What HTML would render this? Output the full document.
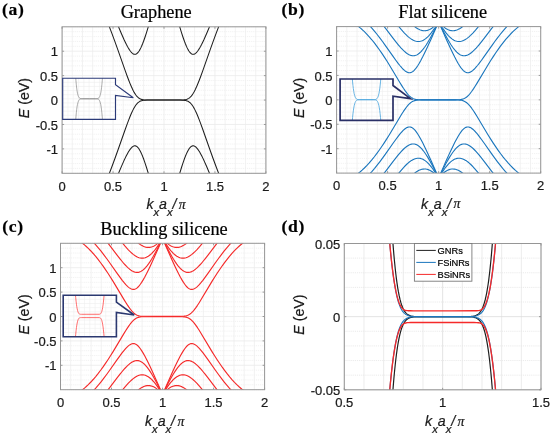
<!DOCTYPE html>
<html lang="en"><head><meta charset="utf-8"><title>Band structures</title>
<style>html,body{margin:0;padding:0;background:#fff}svg{display:block}</style></head>
<body>
<svg width="550" height="434" viewBox="0 0 550 434" font-family="'Liberation Sans', Arial, sans-serif">
<style>text{stroke:#1a1a1a;stroke-width:0.22px;paint-order:stroke}</style>
<rect width="550" height="434" fill="#fff"/>
<clipPath id="clip1"><rect x="62.10" y="26.80" width="203.80" height="146.50"/></clipPath>
<rect x="62.10" y="26.80" width="203.80" height="146.50" fill="#fff"/>
<path d="M72.29 26.80 V173.30M82.48 26.80 V173.30M92.67 26.80 V173.30M102.86 26.80 V173.30M123.24 26.80 V173.30M133.43 26.80 V173.30M143.62 26.80 V173.30M153.81 26.80 V173.30M174.19 26.80 V173.30M184.38 26.80 V173.30M194.57 26.80 V173.30M204.76 26.80 V173.30M225.14 26.80 V173.30M235.33 26.80 V173.30M245.52 26.80 V173.30M255.71 26.80 V173.30" stroke="#efefef" stroke-width="0.8" fill="none"/>
<path d="M62.10 173.30 H265.90M62.10 168.42 H265.90M62.10 163.53 H265.90M62.10 158.65 H265.90M62.10 153.77 H265.90M62.10 144.00 H265.90M62.10 139.12 H265.90M62.10 134.23 H265.90M62.10 129.35 H265.90M62.10 119.58 H265.90M62.10 114.70 H265.90M62.10 109.82 H265.90M62.10 104.93 H265.90M62.10 95.17 H265.90M62.10 90.28 H265.90M62.10 85.40 H265.90M62.10 80.52 H265.90M62.10 70.75 H265.90M62.10 65.87 H265.90M62.10 60.98 H265.90M62.10 56.10 H265.90M62.10 46.33 H265.90M62.10 41.45 H265.90M62.10 36.57 H265.90M62.10 31.68 H265.90M62.10 26.80 H265.90" stroke="#efefef" stroke-width="0.8" stroke-dasharray="1.2 0.9" fill="none"/>
<path d="M62.10 26.80 V173.30M113.05 26.80 V173.30M164.00 26.80 V173.30M214.95 26.80 V173.30M265.90 26.80 V173.30M62.10 148.88 H265.90M62.10 124.47 H265.90M62.10 100.05 H265.90M62.10 75.63 H265.90M62.10 51.22 H265.90" stroke="#ebebeb" stroke-width="0.8" fill="none"/>
<g clip-path="url(#clip1)" fill="none" stroke-linejoin="round">
<path d="M117.89 174.77L121.46 166.33L124.00 160.59L125.28 157.89L126.30 155.83L127.32 153.89L128.34 152.09L129.35 150.45L130.12 149.35L131.14 148.07L131.90 147.27L132.67 146.64L133.43 146.17L133.94 145.96L134.19 145.89L134.70 145.82L134.96 145.81L135.47 145.88L135.72 145.95L136.23 146.15L136.49 146.29L137.00 146.64L137.76 147.35L138.53 148.28L139.29 149.40L140.05 150.72L140.82 152.22L141.58 153.88L142.60 156.32L143.37 158.30L144.38 161.12L145.40 164.11L146.42 167.24L148.72 174.73M179.28 174.73L181.58 167.24L182.60 164.11L183.62 161.12L184.63 158.30L185.40 156.32L186.42 153.88L187.18 152.22L187.95 150.72L188.71 149.40L189.47 148.28L190.24 147.35L191.00 146.64L191.51 146.29L191.77 146.15L192.28 145.95L192.53 145.88L193.04 145.81L193.30 145.82L193.81 145.89L194.06 145.96L194.57 146.17L195.33 146.64L196.10 147.27L196.86 148.07L197.88 149.35L198.65 150.45L199.66 152.09L200.68 153.89L201.70 155.83L202.72 157.89L204.00 160.59L206.54 166.33L210.11 174.77" stroke="#1f1f1f" stroke-width="1.05"/>
<path d="M108.97 174.35L111.78 167.02L114.83 158.74L118.15 149.49L125.28 129.24L127.32 123.64L128.84 119.60L129.86 117.03L130.88 114.57L131.90 112.25L132.67 110.63L133.43 109.11L134.19 107.71L134.96 106.44L135.72 105.30L136.49 104.29L137.25 103.43L138.02 102.69L138.78 102.08L139.54 101.59L140.56 101.08L141.58 100.72L142.60 100.47L143.62 100.30L144.64 100.20L147.19 100.08L150.75 100.05L162.73 100.05L180.30 100.07L182.85 100.16L183.87 100.24L184.89 100.38L185.91 100.58L186.93 100.88L187.95 101.31L188.71 101.74L189.22 102.08L189.73 102.48L190.49 103.17L191.26 103.99L192.02 104.95L192.79 106.04L193.55 107.27L194.32 108.63L195.33 110.63L196.10 112.25L197.12 114.57L198.14 117.03L199.16 119.60L200.68 123.64L202.72 129.24L209.85 149.49L213.17 158.74L216.22 167.02L219.03 174.35" stroke="#1f1f1f" stroke-width="1.05"/>
<path d="M108.97 25.75L111.78 33.08L114.83 41.36L118.15 50.61L125.28 70.86L127.32 76.46L128.84 80.50L129.86 83.07L130.88 85.53L131.90 87.85L132.67 89.47L133.43 90.99L134.19 92.39L134.96 93.66L135.72 94.80L136.49 95.81L137.25 96.67L138.02 97.41L138.78 98.02L139.54 98.51L140.56 99.02L141.58 99.38L142.60 99.63L143.62 99.80L144.64 99.90L147.19 100.02L150.75 100.05L162.73 100.05L180.30 100.03L182.85 99.94L183.87 99.86L184.89 99.72L185.91 99.52L186.93 99.22L187.95 98.79L188.71 98.36L189.22 98.02L189.73 97.62L190.49 96.93L191.26 96.11L192.02 95.15L192.79 94.06L193.55 92.83L194.32 91.47L195.33 89.47L196.10 87.85L197.12 85.53L198.14 83.07L199.16 80.50L200.68 76.46L202.72 70.86L209.85 50.61L213.17 41.36L216.22 33.08L219.03 25.75" stroke="#1f1f1f" stroke-width="1.05"/>
<path d="M117.89 25.33L121.46 33.77L124.00 39.51L125.28 42.21L126.30 44.27L127.32 46.21L128.34 48.01L129.35 49.65L130.12 50.75L131.14 52.03L131.90 52.83L132.67 53.46L133.43 53.93L133.94 54.14L134.19 54.21L134.70 54.28L134.96 54.29L135.47 54.22L135.72 54.15L136.23 53.95L136.49 53.81L137.00 53.46L137.76 52.75L138.53 51.82L139.29 50.70L140.05 49.38L140.82 47.88L141.58 46.22L142.60 43.78L143.37 41.80L144.38 38.98L145.40 35.99L146.42 32.86L148.72 25.37M179.28 25.37L181.58 32.86L182.60 35.99L183.62 38.98L184.63 41.80L185.40 43.78L186.42 46.22L187.18 47.88L187.95 49.38L188.71 50.70L189.47 51.82L190.24 52.75L191.00 53.46L191.51 53.81L191.77 53.95L192.28 54.15L192.53 54.22L193.04 54.29L193.30 54.28L193.81 54.21L194.06 54.14L194.57 53.93L195.33 53.46L196.10 52.83L196.86 52.03L197.88 50.75L198.65 49.65L199.66 48.01L200.68 46.21L201.70 44.27L202.72 42.21L204.00 39.51L206.54 33.77L210.11 25.33" stroke="#1f1f1f" stroke-width="1.05"/>
</g>
<path d="M62.10 173.30 v-2.00 M62.10 26.80 v2.00M113.05 173.30 v-2.00 M113.05 26.80 v2.00M164.00 173.30 v-2.00 M164.00 26.80 v2.00M214.95 173.30 v-2.00 M214.95 26.80 v2.00M265.90 173.30 v-2.00 M265.90 26.80 v2.00M62.10 148.88 h2.00 M265.90 148.88 h-2.00M62.10 124.47 h2.00 M265.90 124.47 h-2.00M62.10 100.05 h2.00 M265.90 100.05 h-2.00M62.10 75.63 h2.00 M265.90 75.63 h-2.00M62.10 51.22 h2.00 M265.90 51.22 h-2.00" stroke="#777" stroke-width="0.7" fill="none"/>
<rect x="62.10" y="26.80" width="203.80" height="146.50" fill="none" stroke="#969696" stroke-width="1"/>
<text x="62.10" y="190.60" text-anchor="middle" font-size="13.0" fill="#1a1a1a">0</text>
<text x="113.05" y="190.60" text-anchor="middle" font-size="13.0" fill="#1a1a1a">0.5</text>
<text x="164.00" y="190.60" text-anchor="middle" font-size="13.0" fill="#1a1a1a">1</text>
<text x="214.95" y="190.60" text-anchor="middle" font-size="13.0" fill="#1a1a1a">1.5</text>
<text x="265.90" y="190.60" text-anchor="middle" font-size="13.0" fill="#1a1a1a">2</text>
<text x="58.10" y="153.98" text-anchor="end" font-size="13.0" fill="#1a1a1a">-1</text>
<text x="58.10" y="129.57" text-anchor="end" font-size="13.0" fill="#1a1a1a">-0.5</text>
<text x="58.10" y="105.15" text-anchor="end" font-size="13.0" fill="#1a1a1a">0</text>
<text x="58.10" y="80.73" text-anchor="end" font-size="13.0" fill="#1a1a1a">0.5</text>
<text x="58.10" y="56.32" text-anchor="end" font-size="13.0" fill="#1a1a1a">1</text>
<text x="146.40" y="208.90" font-size="14.2" font-style="italic" fill="#1a1a1a">k<tspan dy="7" font-size="11.2">x</tspan><tspan dy="-7">a</tspan><tspan dy="7" font-size="11.2">x</tspan><tspan dy="-7">/</tspan><tspan dx="2.3" dy="-0.3" font-family="'Liberation Serif', 'Times New Roman', serif" font-size="13.8">π</tspan></text>
<text transform="translate(28.80 98.05) rotate(-90)" text-anchor="middle" font-size="14.2" fill="#1a1a1a"><tspan font-style="italic">E</tspan> (eV)</text>
<clipPath id="iclip1"><rect x="62.70" y="78.20" width="52.80" height="41.20"/></clipPath>
<rect x="62.70" y="78.20" width="52.80" height="41.20" fill="#fff"/>
<path d="M67.98 78.20 V119.40M73.26 78.20 V119.40M78.54 78.20 V119.40M83.82 78.20 V119.40M89.10 78.20 V119.40M94.38 78.20 V119.40M99.66 78.20 V119.40M104.94 78.20 V119.40M110.22 78.20 V119.40M62.70 115.28 H115.50M62.70 111.16 H115.50M62.70 107.04 H115.50M62.70 102.92 H115.50M62.70 98.80 H115.50M62.70 94.68 H115.50M62.70 90.56 H115.50M62.70 86.44 H115.50M62.70 82.32 H115.50" stroke="#efefef" stroke-width="0.6" fill="none"/>
<g clip-path="url(#iclip1)" fill="none">
<path d="M75.64 76.51L75.95 80.70L76.32 84.81L76.69 88.15L77.06 90.82L77.48 93.17L77.91 94.92L78.12 95.60L78.38 96.31L78.59 96.77L78.86 97.25L79.28 97.81L79.54 98.06L79.81 98.25L80.39 98.53L81.13 98.70L81.81 98.76L82.82 98.79L89.52 98.80L95.54 98.79L96.49 98.76L97.18 98.68L97.86 98.51L98.18 98.37L98.45 98.22L98.71 98.01L98.97 97.75L99.40 97.16L99.66 96.66L99.87 96.18L100.14 95.44L100.35 94.73L100.77 92.91L101.19 90.47L101.56 87.71L101.88 84.81L102.25 80.70L102.56 76.51" stroke="#808080" stroke-width="0.65"/>
<path d="M75.64 121.09L75.95 116.90L76.32 112.79L76.69 109.45L77.06 106.78L77.48 104.43L77.91 102.68L78.12 102.00L78.38 101.29L78.59 100.83L78.86 100.35L79.28 99.79L79.54 99.54L79.81 99.35L80.39 99.07L81.13 98.90L81.81 98.84L82.82 98.81L89.52 98.80L95.54 98.81L96.49 98.84L97.18 98.92L97.86 99.09L98.18 99.23L98.45 99.38L98.71 99.59L98.97 99.85L99.40 100.44L99.66 100.94L99.87 101.42L100.14 102.16L100.35 102.87L100.77 104.69L101.19 107.13L101.56 109.89L101.88 112.79L102.25 116.90L102.56 121.09" stroke="#808080" stroke-width="0.65"/>
</g>
<path d="M62.70 78.20 H115.50 V84.70 L133.30 97.80 L115.50 95.40 V119.40 H62.70 Z" fill="none" stroke="#2b3a78" stroke-width="1.15" stroke-linejoin="miter"/>
<clipPath id="clip2"><rect x="336.60" y="26.60" width="204.10" height="146.50"/></clipPath>
<rect x="336.60" y="26.60" width="204.10" height="146.50" fill="#fff"/>
<path d="M346.81 26.60 V173.10M357.01 26.60 V173.10M367.22 26.60 V173.10M377.42 26.60 V173.10M397.83 26.60 V173.10M408.04 26.60 V173.10M418.24 26.60 V173.10M428.45 26.60 V173.10M448.86 26.60 V173.10M459.06 26.60 V173.10M469.27 26.60 V173.10M479.47 26.60 V173.10M499.88 26.60 V173.10M510.09 26.60 V173.10M520.29 26.60 V173.10M530.50 26.60 V173.10" stroke="#efefef" stroke-width="0.8" fill="none"/>
<path d="M336.60 173.10 H540.70M336.60 168.22 H540.70M336.60 163.33 H540.70M336.60 158.45 H540.70M336.60 153.57 H540.70M336.60 143.80 H540.70M336.60 138.92 H540.70M336.60 134.03 H540.70M336.60 129.15 H540.70M336.60 119.38 H540.70M336.60 114.50 H540.70M336.60 109.62 H540.70M336.60 104.73 H540.70M336.60 94.97 H540.70M336.60 90.08 H540.70M336.60 85.20 H540.70M336.60 80.32 H540.70M336.60 70.55 H540.70M336.60 65.67 H540.70M336.60 60.78 H540.70M336.60 55.90 H540.70M336.60 46.13 H540.70M336.60 41.25 H540.70M336.60 36.37 H540.70M336.60 31.48 H540.70M336.60 26.60 H540.70" stroke="#efefef" stroke-width="0.8" stroke-dasharray="1.2 0.9" fill="none"/>
<path d="M336.60 26.60 V173.10M387.62 26.60 V173.10M438.65 26.60 V173.10M489.68 26.60 V173.10M540.70 26.60 V173.10M336.60 148.68 H540.70M336.60 124.27 H540.70M336.60 99.85 H540.70M336.60 75.43 H540.70M336.60 51.02 H540.70" stroke="#ebebeb" stroke-width="0.8" fill="none"/>
<g clip-path="url(#clip2)" fill="none" stroke-linejoin="round">
<path d="M413.39 174.19L414.92 172.93L416.20 172.00L417.73 171.02L419.01 170.34L419.77 170.00L420.54 169.70L421.81 169.31L423.09 169.07L424.36 168.98L425.64 169.04L426.91 169.25L428.19 169.61L428.96 169.90L429.72 170.25L431.00 170.95L432.27 171.79L433.55 172.77L435.08 174.13M442.22 174.13L443.75 172.77L445.03 171.79L446.30 170.95L447.58 170.25L448.34 169.90L449.11 169.61L450.39 169.25L451.66 169.04L452.94 168.98L454.21 169.07L455.49 169.31L456.76 169.70L457.53 170.00L458.29 170.34L459.57 171.02L461.10 172.00L462.38 172.93L463.91 174.19" stroke="#1a76bd" stroke-width="1.12"/>
<path d="M397.83 174.29L401.15 170.27L402.68 168.51L404.21 166.83L405.48 165.51L406.76 164.26L408.04 163.10L409.31 162.04L410.59 161.08L411.61 160.40L412.88 159.67L413.90 159.18L415.18 158.70L416.20 158.43L417.22 158.26L418.24 158.20L419.26 158.24L420.28 158.40L421.30 158.67L422.32 159.05L423.34 159.55L424.36 160.15L425.38 160.86L426.66 161.90L427.68 162.84L428.96 164.15L429.98 165.30L431.25 166.85L432.53 168.53L433.80 170.32L435.08 172.21L436.35 174.20M440.95 174.20L442.22 172.21L443.50 170.32L444.77 168.53L446.05 166.85L447.32 165.30L448.34 164.15L449.62 162.84L450.64 161.90L451.92 160.86L452.94 160.15L453.96 159.55L454.98 159.05L456.00 158.67L457.02 158.40L458.04 158.24L459.06 158.20L460.08 158.26L461.10 158.43L462.12 158.70L463.40 159.18L464.42 159.67L465.69 160.40L466.71 161.08L467.99 162.04L469.27 163.10L470.54 164.26L471.82 165.51L473.09 166.83L474.62 168.51L476.15 170.27L479.47 174.29" stroke="#1a76bd" stroke-width="1.12"/>
<path d="M383.29 174.26L386.35 170.29L392.98 161.58L396.30 157.33L398.09 155.14L399.62 153.33L401.15 151.61L402.68 150.00L404.21 148.52L405.74 147.20L407.01 146.24L408.29 145.43L409.57 144.78L410.33 144.47L410.84 144.31L411.61 144.12L412.12 144.03L413.14 143.96L413.90 143.99L414.41 144.06L415.18 144.22L415.69 144.38L416.71 144.80L417.22 145.06L417.98 145.52L418.50 145.87L419.26 146.46L420.54 147.60L421.81 148.94L423.34 150.78L424.62 152.48L426.15 154.72L427.68 157.14L429.47 160.16L431.25 163.36L433.04 166.72L434.82 170.20L436.86 174.30M440.44 174.30L442.48 170.20L444.26 166.72L446.05 163.36L447.83 160.16L449.62 157.14L451.15 154.72L452.68 152.48L453.96 150.78L455.49 148.94L456.76 147.60L458.04 146.46L458.80 145.87L459.32 145.52L460.08 145.06L460.59 144.80L461.61 144.38L462.12 144.22L462.89 144.06L463.40 143.99L464.16 143.96L465.18 144.03L465.69 144.12L466.46 144.31L466.97 144.47L467.73 144.78L469.01 145.43L470.29 146.24L471.56 147.20L473.09 148.52L474.62 150.00L476.15 151.61L477.68 153.33L479.21 155.14L481.00 157.33L484.32 161.58L490.95 170.29L494.01 174.26" stroke="#1a76bd" stroke-width="1.12"/>
<path d="M369.51 174.16L372.06 171.33L374.61 168.35L377.16 165.20L379.97 161.58L382.52 158.16L385.07 154.64L393.24 143.04L395.79 139.47L398.34 136.06L399.62 134.44L400.64 133.21L401.91 131.76L403.19 130.43L404.46 129.27L405.48 128.48L406.50 127.83L407.52 127.35L408.04 127.18L408.55 127.06L409.06 126.99L409.57 126.97L410.33 127.05L410.84 127.17L411.35 127.35L411.86 127.59L412.37 127.88L412.88 128.23L413.39 128.64L414.16 129.35L415.18 130.46L416.45 132.10L417.73 133.97L419.26 136.47L420.79 139.20L422.58 142.59L424.36 146.17L426.40 150.43L428.70 155.39L431.25 161.04L434.06 167.40L437.12 174.43M440.18 174.43L443.24 167.40L446.05 161.04L448.60 155.39L450.90 150.43L452.94 146.17L454.72 142.59L456.51 139.20L458.04 136.47L459.57 133.97L460.85 132.10L462.12 130.46L463.14 129.35L463.91 128.64L464.42 128.23L464.93 127.88L465.44 127.59L465.95 127.35L466.46 127.17L466.97 127.05L467.73 126.97L468.24 126.99L468.75 127.06L469.27 127.18L469.78 127.35L470.80 127.83L471.82 128.48L472.84 129.27L474.11 130.43L475.39 131.76L476.66 133.21L477.68 134.44L478.96 136.06L481.51 139.47L484.06 143.04L492.23 154.64L494.78 158.16L497.33 161.58L500.14 165.20L502.69 168.35L505.24 171.33L507.79 174.16" stroke="#1a76bd" stroke-width="1.12"/>
<path d="M357.27 174.14L359.56 172.35L360.84 171.29L362.11 170.16L364.41 168.01L366.96 165.42L369.26 162.91L371.81 159.93L374.36 156.76L376.91 153.40L379.21 150.23L381.76 146.55L384.05 143.10L386.60 139.13L388.90 135.46L391.45 131.27L400.13 116.73L401.91 113.83L403.44 111.44L405.23 108.81L406.76 106.75L407.52 105.81L408.29 104.93L409.57 103.63L410.33 102.96L411.10 102.36L411.86 101.85L412.88 101.29L413.65 100.95L414.67 100.60L415.69 100.34L416.96 100.13L419.01 99.95L421.56 99.87L437.37 99.85L455.23 99.87L458.04 99.94L460.08 100.10L461.36 100.29L462.38 100.53L463.40 100.85L464.16 101.17L465.18 101.70L465.95 102.18L466.71 102.75L467.48 103.40L468.75 104.66L469.52 105.51L470.29 106.43L471.82 108.45L473.60 111.05L475.13 113.42L476.92 116.31L485.85 131.27L488.40 135.46L490.70 139.13L493.25 143.10L495.80 146.92L498.35 150.59L500.65 153.75L503.20 157.08L505.75 160.24L508.30 163.19L510.60 165.69L513.15 168.26L515.44 170.39L517.74 172.35L520.03 174.14" stroke="#1a76bd" stroke-width="1.12"/>
<path d="M357.27 25.56L359.56 27.35L360.84 28.41L362.11 29.54L364.41 31.69L366.96 34.28L369.26 36.79L371.81 39.77L374.36 42.94L376.91 46.30L379.21 49.47L381.76 53.15L384.05 56.60L386.60 60.57L388.90 64.24L391.45 68.43L400.13 82.97L401.91 85.87L403.44 88.26L405.23 90.89L406.76 92.95L407.52 93.89L408.29 94.77L409.57 96.07L410.33 96.74L411.10 97.34L411.86 97.85L412.88 98.41L413.65 98.75L414.67 99.10L415.69 99.36L416.71 99.54L417.73 99.66L418.75 99.73L421.56 99.83L437.12 99.85L455.23 99.83L458.04 99.76L460.08 99.60L461.36 99.41L462.38 99.17L463.40 98.85L464.16 98.53L465.18 98.00L465.95 97.52L466.71 96.95L467.48 96.30L468.75 95.04L469.52 94.19L470.29 93.27L471.82 91.25L473.60 88.65L475.13 86.28L476.92 83.39L485.85 68.43L488.40 64.24L490.70 60.57L493.25 56.60L495.80 52.78L498.35 49.11L500.65 45.95L503.20 42.62L505.75 39.46L508.30 36.51L510.60 34.01L513.15 31.44L515.44 29.31L517.74 27.35L520.03 25.56" stroke="#1a76bd" stroke-width="1.12"/>
<path d="M369.51 25.54L372.06 28.37L374.61 31.35L377.16 34.50L379.97 38.12L382.52 41.54L385.07 45.06L393.24 56.66L395.79 60.23L398.34 63.64L399.62 65.26L400.64 66.49L401.91 67.94L403.19 69.27L404.46 70.43L405.48 71.22L406.50 71.87L407.52 72.35L408.04 72.52L408.55 72.64L409.06 72.71L409.57 72.73L410.33 72.65L410.84 72.53L411.35 72.35L411.86 72.11L412.37 71.82L412.88 71.47L413.39 71.06L414.16 70.35L415.18 69.24L416.45 67.60L417.73 65.73L419.26 63.23L420.79 60.50L422.58 57.11L424.36 53.53L426.40 49.27L428.70 44.31L431.25 38.66L434.06 32.30L437.12 25.27M440.18 25.27L443.24 32.30L446.05 38.66L448.60 44.31L450.90 49.27L452.94 53.53L454.72 57.11L456.51 60.50L458.04 63.23L459.57 65.73L460.85 67.60L462.12 69.24L463.14 70.35L463.91 71.06L464.42 71.47L464.93 71.82L465.44 72.11L465.95 72.35L466.46 72.53L466.97 72.65L467.73 72.73L468.24 72.71L468.75 72.64L469.27 72.52L469.78 72.35L470.80 71.87L471.82 71.22L472.84 70.43L474.11 69.27L475.39 67.94L476.66 66.49L477.68 65.26L478.96 63.64L481.51 60.23L484.06 56.66L492.23 45.06L494.78 41.54L497.33 38.12L500.14 34.50L502.69 31.35L505.24 28.37L507.79 25.54" stroke="#1a76bd" stroke-width="1.12"/>
<path d="M383.29 25.44L386.35 29.41L392.98 38.12L396.30 42.37L398.09 44.56L399.62 46.37L401.15 48.09L402.68 49.70L404.21 51.18L405.74 52.50L407.01 53.46L408.29 54.27L409.57 54.92L410.33 55.23L410.84 55.39L411.61 55.58L412.12 55.67L413.14 55.74L413.90 55.71L414.41 55.64L415.18 55.48L415.69 55.32L416.71 54.90L417.22 54.64L417.98 54.18L418.50 53.83L419.26 53.24L420.54 52.10L421.81 50.76L423.34 48.92L424.62 47.22L426.15 44.98L427.68 42.56L429.47 39.54L431.25 36.34L433.04 32.98L434.82 29.50L436.86 25.40M440.44 25.40L442.48 29.50L444.26 32.98L446.05 36.34L447.83 39.54L449.62 42.56L451.15 44.98L452.68 47.22L453.96 48.92L455.49 50.76L456.76 52.10L458.04 53.24L458.80 53.83L459.32 54.18L460.08 54.64L460.59 54.90L461.61 55.32L462.12 55.48L462.89 55.64L463.40 55.71L464.16 55.74L465.18 55.67L465.69 55.58L466.46 55.39L466.97 55.23L467.73 54.92L469.01 54.27L470.29 53.46L471.56 52.50L473.09 51.18L474.62 49.70L476.15 48.09L477.68 46.37L479.21 44.56L481.00 42.37L484.32 38.12L490.95 29.41L494.01 25.44" stroke="#1a76bd" stroke-width="1.12"/>
<path d="M397.83 25.41L401.15 29.43L402.68 31.19L404.21 32.87L405.48 34.19L406.76 35.44L408.04 36.60L409.31 37.66L410.59 38.62L411.61 39.30L412.88 40.03L413.90 40.52L415.18 41.00L416.20 41.27L417.22 41.44L418.24 41.50L419.26 41.46L420.28 41.30L421.30 41.03L422.32 40.65L423.34 40.15L424.36 39.55L425.38 38.84L426.66 37.80L427.68 36.86L428.96 35.55L429.98 34.40L431.25 32.85L432.53 31.17L433.80 29.38L435.08 27.49L436.35 25.50M440.95 25.50L442.22 27.49L443.50 29.38L444.77 31.17L446.05 32.85L447.32 34.40L448.34 35.55L449.62 36.86L450.64 37.80L451.92 38.84L452.94 39.55L453.96 40.15L454.98 40.65L456.00 41.03L457.02 41.30L458.04 41.46L459.06 41.50L460.08 41.44L461.10 41.27L462.12 41.00L463.40 40.52L464.42 40.03L465.69 39.30L466.71 38.62L467.99 37.66L469.27 36.60L470.54 35.44L471.82 34.19L473.09 32.87L474.62 31.19L476.15 29.43L479.47 25.41" stroke="#1a76bd" stroke-width="1.12"/>
<path d="M413.39 25.51L414.92 26.77L416.20 27.70L417.73 28.68L419.01 29.36L419.77 29.70L420.54 30.00L421.81 30.39L423.09 30.63L424.36 30.72L425.64 30.66L426.91 30.45L428.19 30.09L428.96 29.80L429.72 29.45L431.00 28.75L432.27 27.91L433.55 26.93L435.08 25.57M442.22 25.57L443.75 26.93L445.03 27.91L446.30 28.75L447.58 29.45L448.34 29.80L449.11 30.09L450.39 30.45L451.66 30.66L452.94 30.72L454.21 30.63L455.49 30.39L456.76 30.00L457.53 29.70L458.29 29.36L459.57 28.68L461.10 27.70L462.38 26.77L463.91 25.51" stroke="#1a76bd" stroke-width="1.12"/>
</g>
<path d="M336.60 173.10 v-2.00 M336.60 26.60 v2.00M387.62 173.10 v-2.00 M387.62 26.60 v2.00M438.65 173.10 v-2.00 M438.65 26.60 v2.00M489.68 173.10 v-2.00 M489.68 26.60 v2.00M540.70 173.10 v-2.00 M540.70 26.60 v2.00M336.60 148.68 h2.00 M540.70 148.68 h-2.00M336.60 124.27 h2.00 M540.70 124.27 h-2.00M336.60 99.85 h2.00 M540.70 99.85 h-2.00M336.60 75.43 h2.00 M540.70 75.43 h-2.00M336.60 51.02 h2.00 M540.70 51.02 h-2.00" stroke="#777" stroke-width="0.7" fill="none"/>
<rect x="336.60" y="26.60" width="204.10" height="146.50" fill="none" stroke="#969696" stroke-width="1"/>
<text x="336.60" y="190.40" text-anchor="middle" font-size="13.0" fill="#1a1a1a">0</text>
<text x="387.62" y="190.40" text-anchor="middle" font-size="13.0" fill="#1a1a1a">0.5</text>
<text x="438.65" y="190.40" text-anchor="middle" font-size="13.0" fill="#1a1a1a">1</text>
<text x="489.68" y="190.40" text-anchor="middle" font-size="13.0" fill="#1a1a1a">1.5</text>
<text x="540.70" y="190.40" text-anchor="middle" font-size="13.0" fill="#1a1a1a">2</text>
<text x="332.60" y="153.78" text-anchor="end" font-size="13.0" fill="#1a1a1a">-1</text>
<text x="332.60" y="129.37" text-anchor="end" font-size="13.0" fill="#1a1a1a">-0.5</text>
<text x="332.60" y="104.95" text-anchor="end" font-size="13.0" fill="#1a1a1a">0</text>
<text x="332.60" y="80.53" text-anchor="end" font-size="13.0" fill="#1a1a1a">0.5</text>
<text x="332.60" y="56.12" text-anchor="end" font-size="13.0" fill="#1a1a1a">1</text>
<text x="421.05" y="208.70" font-size="14.2" font-style="italic" fill="#1a1a1a">k<tspan dy="7" font-size="11.2">x</tspan><tspan dy="-7">a</tspan><tspan dy="7" font-size="11.2">x</tspan><tspan dy="-7">/</tspan><tspan dx="2.3" dy="-0.3" font-family="'Liberation Serif', 'Times New Roman', serif" font-size="13.8">π</tspan></text>
<text transform="translate(304.00 97.85) rotate(-90)" text-anchor="middle" font-size="14.2" fill="#1a1a1a"><tspan font-style="italic">E</tspan> (eV)</text>
<clipPath id="iclip2"><rect x="340.10" y="79.00" width="52.90" height="41.40"/></clipPath>
<rect x="340.10" y="79.00" width="52.90" height="41.40" fill="#fff"/>
<path d="M345.39 79.00 V120.40M350.68 79.00 V120.40M355.97 79.00 V120.40M361.26 79.00 V120.40M366.55 79.00 V120.40M371.84 79.00 V120.40M377.13 79.00 V120.40M382.42 79.00 V120.40M387.71 79.00 V120.40M340.10 116.26 H393.00M340.10 112.12 H393.00M340.10 107.98 H393.00M340.10 103.84 H393.00M340.10 99.70 H393.00M340.10 95.56 H393.00M340.10 91.42 H393.00M340.10 87.28 H393.00M340.10 83.14 H393.00" stroke="#efefef" stroke-width="0.6" fill="none"/>
<g clip-path="url(#iclip2)" fill="none">
<path d="M352.21 77.75L352.58 81.92L352.95 85.50L353.33 88.53L353.75 91.37L354.17 93.61L354.65 95.52L355.12 96.91L355.39 97.50L355.65 97.97L356.13 98.61L356.39 98.87L356.66 99.07L357.24 99.37L357.98 99.57L358.72 99.65L359.73 99.69L365.92 99.70L373.16 99.69L374.22 99.66L374.96 99.59L375.70 99.43L376.02 99.31L376.34 99.14L376.87 98.72L377.34 98.14L377.66 97.60L377.92 97.03L378.40 95.70L378.88 93.85L379.30 91.68L379.72 88.92L380.09 85.97L380.52 81.92L380.89 77.75" stroke="#4da6de" stroke-width="0.85"/>
<path d="M352.21 121.65L352.58 117.48L352.95 113.90L353.33 110.87L353.75 108.03L354.17 105.79L354.65 103.88L355.12 102.49L355.39 101.90L355.65 101.43L356.13 100.79L356.39 100.53L356.66 100.33L357.24 100.03L357.98 99.83L358.72 99.75L359.73 99.71L365.92 99.70L373.16 99.71L374.22 99.74L374.96 99.81L375.70 99.97L376.02 100.09L376.34 100.26L376.87 100.68L377.34 101.26L377.66 101.80L377.92 102.37L378.40 103.70L378.88 105.55L379.30 107.72L379.72 110.48L380.09 113.43L380.52 117.48L380.89 121.65" stroke="#4da6de" stroke-width="0.85"/>
</g>
<path d="M340.10 79.00 H393.00 V85.50 L410.50 98.60 L393.00 96.20 V120.40 H340.10 Z" fill="none" stroke="#292f66" stroke-width="1.70" stroke-linejoin="miter"/>
<clipPath id="clip3"><rect x="60.50" y="243.30" width="204.10" height="146.40"/></clipPath>
<rect x="60.50" y="243.30" width="204.10" height="146.40" fill="#fff"/>
<path d="M70.70 243.30 V389.70M80.91 243.30 V389.70M91.12 243.30 V389.70M101.32 243.30 V389.70M121.73 243.30 V389.70M131.94 243.30 V389.70M142.14 243.30 V389.70M152.35 243.30 V389.70M172.76 243.30 V389.70M182.96 243.30 V389.70M193.17 243.30 V389.70M203.37 243.30 V389.70M223.78 243.30 V389.70M233.99 243.30 V389.70M244.19 243.30 V389.70M254.40 243.30 V389.70" stroke="#efefef" stroke-width="0.8" fill="none"/>
<path d="M60.50 389.70 H264.60M60.50 384.82 H264.60M60.50 379.94 H264.60M60.50 375.06 H264.60M60.50 370.18 H264.60M60.50 360.42 H264.60M60.50 355.54 H264.60M60.50 350.66 H264.60M60.50 345.78 H264.60M60.50 336.02 H264.60M60.50 331.14 H264.60M60.50 326.26 H264.60M60.50 321.38 H264.60M60.50 311.62 H264.60M60.50 306.74 H264.60M60.50 301.86 H264.60M60.50 296.98 H264.60M60.50 287.22 H264.60M60.50 282.34 H264.60M60.50 277.46 H264.60M60.50 272.58 H264.60M60.50 262.82 H264.60M60.50 257.94 H264.60M60.50 253.06 H264.60M60.50 248.18 H264.60M60.50 243.30 H264.60" stroke="#efefef" stroke-width="0.8" stroke-dasharray="1.2 0.9" fill="none"/>
<path d="M60.50 243.30 V389.70M111.53 243.30 V389.70M162.55 243.30 V389.70M213.58 243.30 V389.70M264.60 243.30 V389.70M60.50 365.30 H264.60M60.50 340.90 H264.60M60.50 316.50 H264.60M60.50 292.10 H264.60M60.50 267.70 H264.60" stroke="#ebebeb" stroke-width="0.8" fill="none"/>
<g clip-path="url(#clip3)" fill="none" stroke-linejoin="round">
<path d="M137.29 390.79L138.82 389.53L140.10 388.60L141.63 387.62L142.91 386.94L143.67 386.60L144.44 386.30L145.71 385.92L146.99 385.67L148.26 385.58L149.54 385.64L150.81 385.85L152.09 386.21L152.86 386.50L153.62 386.85L154.90 387.55L156.17 388.39L157.45 389.37L158.98 390.73M166.12 390.73L167.65 389.37L168.93 388.39L170.20 387.55L171.48 386.85L172.24 386.50L173.01 386.21L174.29 385.85L175.56 385.64L176.84 385.58L178.11 385.67L179.39 385.92L180.66 386.30L181.43 386.60L182.19 386.94L183.47 387.62L185.00 388.60L186.28 389.53L187.81 390.79" stroke="#f52a2a" stroke-width="1.15"/>
<path d="M121.73 390.89L125.05 386.87L126.58 385.11L128.11 383.44L129.38 382.12L130.66 380.87L131.94 379.71L133.21 378.65L134.49 377.69L135.51 377.01L136.78 376.28L137.80 375.79L139.08 375.31L140.10 375.04L141.12 374.87L142.14 374.81L143.16 374.85L144.18 375.01L145.20 375.28L146.22 375.66L147.24 376.16L148.26 376.76L149.28 377.47L150.56 378.51L151.58 379.45L152.86 380.76L153.88 381.90L155.15 383.46L156.43 385.13L157.70 386.92L158.98 388.81L160.25 390.80M164.85 390.80L166.12 388.81L167.40 386.92L168.67 385.13L169.95 383.46L171.22 381.90L172.24 380.76L173.52 379.45L174.54 378.51L175.82 377.47L176.84 376.76L177.86 376.16L178.88 375.66L179.90 375.28L180.92 375.01L181.94 374.85L182.96 374.81L183.98 374.87L185.00 375.04L186.02 375.31L187.30 375.79L188.32 376.28L189.59 377.01L190.61 377.69L191.89 378.65L193.17 379.71L194.44 380.87L195.72 382.12L196.99 383.44L198.52 385.11L200.05 386.87L203.37 390.89" stroke="#f52a2a" stroke-width="1.15"/>
<path d="M107.19 390.86L110.25 386.89L116.88 378.18L120.20 373.94L121.99 371.75L123.52 369.94L125.05 368.23L126.58 366.62L128.11 365.14L129.64 363.82L130.91 362.86L132.19 362.05L133.47 361.40L134.23 361.09L134.74 360.93L135.51 360.74L136.02 360.65L137.04 360.58L137.80 360.61L138.31 360.68L139.08 360.84L139.59 361.00L140.61 361.42L141.12 361.68L141.88 362.14L142.40 362.49L143.16 363.08L144.44 364.22L145.71 365.56L147.24 367.39L148.52 369.10L150.05 371.33L151.58 373.75L153.37 376.77L155.15 379.97L156.94 383.32L158.72 386.80L160.76 390.90M164.34 390.90L166.38 386.80L168.16 383.32L169.95 379.97L171.73 376.77L173.52 373.75L175.05 371.33L176.58 369.10L177.86 367.39L179.39 365.56L180.66 364.22L181.94 363.08L182.70 362.49L183.22 362.14L183.98 361.68L184.49 361.42L185.51 361.00L186.02 360.84L186.79 360.68L187.30 360.61L188.06 360.58L189.08 360.65L189.59 360.74L190.36 360.93L190.87 361.09L191.63 361.40L192.91 362.05L194.19 362.86L195.46 363.82L196.99 365.14L198.52 366.62L200.05 368.23L201.58 369.94L203.11 371.75L204.90 373.94L208.22 378.18L214.85 386.89L217.91 390.86" stroke="#f52a2a" stroke-width="1.15"/>
<path d="M93.41 390.75L95.96 387.93L98.51 384.95L101.06 381.81L103.87 378.19L106.42 374.77L108.97 371.26L117.14 359.66L119.69 356.10L122.24 352.68L123.52 351.07L124.54 349.83L125.81 348.38L127.09 347.06L128.36 345.90L129.38 345.11L130.40 344.46L131.42 343.98L131.94 343.81L132.45 343.69L132.96 343.62L133.47 343.60L134.23 343.68L134.74 343.80L135.25 343.98L135.76 344.22L136.27 344.51L136.78 344.86L137.29 345.27L138.06 345.98L139.08 347.09L140.35 348.73L141.63 350.60L143.16 353.10L144.69 355.82L146.48 359.21L148.26 362.79L150.30 367.05L152.60 372.00L155.15 377.65L157.96 384.00L161.02 391.03M164.08 391.03L167.14 384.00L169.95 377.65L172.50 372.00L174.80 367.05L176.84 362.79L178.62 359.21L180.41 355.82L181.94 353.10L183.47 350.60L184.75 348.73L186.02 347.09L187.04 345.98L187.81 345.27L188.32 344.86L188.83 344.51L189.34 344.22L189.85 343.98L190.36 343.80L190.87 343.68L191.63 343.60L192.14 343.62L192.65 343.69L193.17 343.81L193.68 343.98L194.70 344.46L195.72 345.11L196.74 345.90L198.01 347.06L199.29 348.38L200.56 349.83L201.58 351.07L202.86 352.68L205.41 356.10L207.96 359.66L216.13 371.26L218.68 374.77L221.23 378.19L224.04 381.81L226.59 384.95L229.14 387.93L231.69 390.75" stroke="#f52a2a" stroke-width="1.15"/>
<path d="M81.17 390.74L83.46 388.95L84.74 387.89L86.01 386.77L88.31 384.61L90.86 382.02L93.16 379.51L95.71 376.54L98.26 373.37L100.81 370.02L103.11 366.85L105.66 363.17L107.95 359.72L110.50 355.76L112.80 352.08L115.35 347.90L124.03 333.37L125.81 330.47L127.34 328.08L128.87 325.82L130.40 323.73L131.17 322.77L131.94 321.87L133.21 320.53L133.98 319.83L134.74 319.21L135.51 318.67L136.53 318.08L137.29 317.72L138.31 317.35L139.08 317.14L140.10 316.94L141.63 316.77L143.42 316.71L156.68 316.70L180.41 316.70L182.45 316.73L183.98 316.82L185.00 316.94L186.02 317.14L187.04 317.43L187.81 317.72L188.83 318.21L189.59 318.67L190.36 319.21L191.12 319.83L191.89 320.53L192.65 321.31L193.42 322.16L194.19 323.08L195.72 325.10L197.50 327.69L199.03 330.06L200.82 332.95L209.75 347.90L212.30 352.08L214.60 355.76L217.15 359.72L219.70 363.54L222.25 367.21L224.55 370.36L227.10 373.70L229.65 376.85L232.20 379.80L234.50 382.29L237.05 384.86L239.34 387.00L241.64 388.95L243.93 390.74" stroke="#f52a2a" stroke-width="1.15"/>
<path d="M81.17 242.26L83.46 244.05L84.74 245.11L86.01 246.23L88.31 248.39L90.86 250.98L93.16 253.49L95.71 256.46L98.26 259.63L100.81 262.98L103.11 266.15L105.66 269.83L107.95 273.28L110.50 277.24L112.80 280.92L115.35 285.10L124.03 299.63L125.81 302.53L127.34 304.92L128.87 307.18L130.40 309.27L131.17 310.23L131.94 311.13L133.21 312.47L133.98 313.17L134.74 313.79L135.51 314.33L136.53 314.92L137.29 315.28L138.31 315.65L139.08 315.86L140.10 316.06L141.63 316.23L143.42 316.29L156.68 316.30L180.41 316.30L182.45 316.27L183.98 316.18L185.00 316.06L186.02 315.86L187.04 315.57L187.81 315.28L188.83 314.79L189.59 314.33L190.36 313.79L191.12 313.17L191.89 312.47L192.65 311.69L193.42 310.84L194.19 309.92L195.72 307.90L197.50 305.31L199.03 302.94L200.82 300.05L209.75 285.10L212.30 280.92L214.60 277.24L217.15 273.28L219.70 269.46L222.25 265.79L224.55 262.64L227.10 259.30L229.65 256.15L232.20 253.20L234.50 250.71L237.05 248.14L239.34 246.00L241.64 244.05L243.93 242.26" stroke="#f52a2a" stroke-width="1.15"/>
<path d="M93.41 242.25L95.96 245.07L98.51 248.05L101.06 251.19L103.87 254.81L106.42 258.23L108.97 261.74L117.14 273.34L119.69 276.90L122.24 280.32L123.52 281.93L124.54 283.17L125.81 284.62L127.09 285.94L128.36 287.10L129.38 287.89L130.40 288.54L131.42 289.02L131.94 289.19L132.45 289.31L132.96 289.38L133.47 289.40L134.23 289.32L134.74 289.20L135.25 289.02L135.76 288.78L136.27 288.49L136.78 288.14L137.29 287.73L138.06 287.02L139.08 285.91L140.35 284.27L141.63 282.40L143.16 279.90L144.69 277.18L146.48 273.79L148.26 270.21L150.30 265.95L152.60 261.00L155.15 255.35L157.96 249.00L161.02 241.97M164.08 241.97L167.14 249.00L169.95 255.35L172.50 261.00L174.80 265.95L176.84 270.21L178.62 273.79L180.41 277.18L181.94 279.90L183.47 282.40L184.75 284.27L186.02 285.91L187.04 287.02L187.81 287.73L188.32 288.14L188.83 288.49L189.34 288.78L189.85 289.02L190.36 289.20L190.87 289.32L191.63 289.40L192.14 289.38L192.65 289.31L193.17 289.19L193.68 289.02L194.70 288.54L195.72 287.89L196.74 287.10L198.01 285.94L199.29 284.62L200.56 283.17L201.58 281.93L202.86 280.32L205.41 276.90L207.96 273.34L216.13 261.74L218.68 258.23L221.23 254.81L224.04 251.19L226.59 248.05L229.14 245.07L231.69 242.25" stroke="#f52a2a" stroke-width="1.15"/>
<path d="M107.19 242.14L110.25 246.11L116.88 254.82L120.20 259.06L121.99 261.25L123.52 263.06L125.05 264.77L126.58 266.38L128.11 267.86L129.64 269.18L130.91 270.14L132.19 270.95L133.47 271.60L134.23 271.91L134.74 272.07L135.51 272.26L136.02 272.35L137.04 272.42L137.80 272.39L138.31 272.32L139.08 272.16L139.59 272.00L140.61 271.58L141.12 271.32L141.88 270.86L142.40 270.51L143.16 269.92L144.44 268.78L145.71 267.44L147.24 265.61L148.52 263.90L150.05 261.67L151.58 259.25L153.37 256.23L155.15 253.03L156.94 249.68L158.72 246.20L160.76 242.10M164.34 242.10L166.38 246.20L168.16 249.68L169.95 253.03L171.73 256.23L173.52 259.25L175.05 261.67L176.58 263.90L177.86 265.61L179.39 267.44L180.66 268.78L181.94 269.92L182.70 270.51L183.22 270.86L183.98 271.32L184.49 271.58L185.51 272.00L186.02 272.16L186.79 272.32L187.30 272.39L188.06 272.42L189.08 272.35L189.59 272.26L190.36 272.07L190.87 271.91L191.63 271.60L192.91 270.95L194.19 270.14L195.46 269.18L196.99 267.86L198.52 266.38L200.05 264.77L201.58 263.06L203.11 261.25L204.90 259.06L208.22 254.82L214.85 246.11L217.91 242.14" stroke="#f52a2a" stroke-width="1.15"/>
<path d="M121.73 242.11L125.05 246.13L126.58 247.89L128.11 249.56L129.38 250.88L130.66 252.13L131.94 253.29L133.21 254.35L134.49 255.31L135.51 255.99L136.78 256.72L137.80 257.21L139.08 257.69L140.10 257.96L141.12 258.13L142.14 258.19L143.16 258.15L144.18 257.99L145.20 257.72L146.22 257.34L147.24 256.84L148.26 256.24L149.28 255.53L150.56 254.49L151.58 253.55L152.86 252.24L153.88 251.10L155.15 249.54L156.43 247.87L157.70 246.08L158.98 244.19L160.25 242.20M164.85 242.20L166.12 244.19L167.40 246.08L168.67 247.87L169.95 249.54L171.22 251.10L172.24 252.24L173.52 253.55L174.54 254.49L175.82 255.53L176.84 256.24L177.86 256.84L178.88 257.34L179.90 257.72L180.92 257.99L181.94 258.15L182.96 258.19L183.98 258.13L185.00 257.96L186.02 257.69L187.30 257.21L188.32 256.72L189.59 255.99L190.61 255.31L191.89 254.35L193.17 253.29L194.44 252.13L195.72 250.88L196.99 249.56L198.52 247.89L200.05 246.13L203.37 242.11" stroke="#f52a2a" stroke-width="1.15"/>
<path d="M137.29 242.21L138.82 243.47L140.10 244.40L141.63 245.38L142.91 246.06L143.67 246.40L144.44 246.70L145.71 247.08L146.99 247.33L148.26 247.42L149.54 247.36L150.81 247.15L152.09 246.79L152.86 246.50L153.62 246.15L154.90 245.45L156.17 244.61L157.45 243.63L158.98 242.27M166.12 242.27L167.65 243.63L168.93 244.61L170.20 245.45L171.48 246.15L172.24 246.50L173.01 246.79L174.29 247.15L175.56 247.36L176.84 247.42L178.11 247.33L179.39 247.08L180.66 246.70L181.43 246.40L182.19 246.06L183.47 245.38L185.00 244.40L186.28 243.47L187.81 242.21" stroke="#f52a2a" stroke-width="1.15"/>
</g>
<path d="M60.50 389.70 v-2.00 M60.50 243.30 v2.00M111.53 389.70 v-2.00 M111.53 243.30 v2.00M162.55 389.70 v-2.00 M162.55 243.30 v2.00M213.58 389.70 v-2.00 M213.58 243.30 v2.00M264.60 389.70 v-2.00 M264.60 243.30 v2.00M60.50 365.30 h2.00 M264.60 365.30 h-2.00M60.50 340.90 h2.00 M264.60 340.90 h-2.00M60.50 316.50 h2.00 M264.60 316.50 h-2.00M60.50 292.10 h2.00 M264.60 292.10 h-2.00M60.50 267.70 h2.00 M264.60 267.70 h-2.00" stroke="#777" stroke-width="0.7" fill="none"/>
<rect x="60.50" y="243.30" width="204.10" height="146.40" fill="none" stroke="#969696" stroke-width="1"/>
<text x="60.50" y="407.00" text-anchor="middle" font-size="13.0" fill="#1a1a1a">0</text>
<text x="111.53" y="407.00" text-anchor="middle" font-size="13.0" fill="#1a1a1a">0.5</text>
<text x="162.55" y="407.00" text-anchor="middle" font-size="13.0" fill="#1a1a1a">1</text>
<text x="213.58" y="407.00" text-anchor="middle" font-size="13.0" fill="#1a1a1a">1.5</text>
<text x="264.60" y="407.00" text-anchor="middle" font-size="13.0" fill="#1a1a1a">2</text>
<text x="56.50" y="370.40" text-anchor="end" font-size="13.0" fill="#1a1a1a">-1</text>
<text x="56.50" y="346.00" text-anchor="end" font-size="13.0" fill="#1a1a1a">-0.5</text>
<text x="56.50" y="321.60" text-anchor="end" font-size="13.0" fill="#1a1a1a">0</text>
<text x="56.50" y="297.20" text-anchor="end" font-size="13.0" fill="#1a1a1a">0.5</text>
<text x="56.50" y="272.80" text-anchor="end" font-size="13.0" fill="#1a1a1a">1</text>
<text x="144.95" y="425.80" font-size="14.2" font-style="italic" fill="#1a1a1a">k<tspan dy="7" font-size="11.2">x</tspan><tspan dy="-7">a</tspan><tspan dy="7" font-size="11.2">x</tspan><tspan dy="-7">/</tspan><tspan dx="2.3" dy="-0.3" font-family="'Liberation Serif', 'Times New Roman', serif" font-size="13.8">π</tspan></text>
<text transform="translate(28.50 314.50) rotate(-90)" text-anchor="middle" font-size="14.2" fill="#1a1a1a"><tspan font-style="italic">E</tspan> (eV)</text>
<clipPath id="iclip3"><rect x="63.20" y="295.20" width="53.20" height="41.50"/></clipPath>
<rect x="63.20" y="295.20" width="53.20" height="41.50" fill="#fff"/>
<path d="M68.52 295.20 V336.70M73.84 295.20 V336.70M79.16 295.20 V336.70M84.48 295.20 V336.70M89.80 295.20 V336.70M95.12 295.20 V336.70M100.44 295.20 V336.70M105.76 295.20 V336.70M111.08 295.20 V336.70M63.20 332.55 H116.40M63.20 328.40 H116.40M63.20 324.25 H116.40M63.20 320.10 H116.40M63.20 315.95 H116.40M63.20 311.80 H116.40M63.20 307.65 H116.40M63.20 303.50 H116.40M63.20 299.35 H116.40" stroke="#efefef" stroke-width="0.6" fill="none"/>
<g clip-path="url(#iclip3)" fill="none">
<path d="M75.38 293.89L75.70 297.49L76.07 301.15L76.45 304.24L76.82 306.79L77.19 308.87L77.62 310.71L78.04 312.06L78.47 313.01L78.79 313.49L79.16 313.86L79.59 314.09L80.06 314.22L80.54 314.27L81.29 314.29L86.93 314.29L99.00 314.27L99.59 314.21L100.07 314.07L100.44 313.86L100.76 313.55L101.03 313.19L101.29 312.70L101.56 312.06L101.77 311.44L102.20 309.85L102.62 307.74L103.05 305.02L103.42 302.09L103.84 298.05L104.22 293.89" stroke="#f55" stroke-width="0.85"/>
<path d="M75.38 338.01L75.70 334.41L76.07 330.75L76.45 327.66L76.82 325.11L77.19 323.03L77.62 321.19L78.04 319.84L78.47 318.89L78.79 318.41L79.16 318.04L79.59 317.81L80.06 317.68L80.54 317.63L81.29 317.61L86.93 317.61L99.00 317.63L99.59 317.69L100.07 317.83L100.44 318.04L100.76 318.35L101.03 318.71L101.29 319.20L101.56 319.84L101.77 320.46L102.20 322.05L102.62 324.16L103.05 326.88L103.42 329.81L103.84 333.85L104.22 338.01" stroke="#f55" stroke-width="0.85"/>
</g>
<path d="M63.20 295.20 H116.40 V302.10 L134.20 315.00 L116.40 312.40 V336.70 H63.20 Z" fill="none" stroke="#2b3870" stroke-width="1.60" stroke-linejoin="miter"/>
<clipPath id="clip4"><rect x="344.30" y="243.50" width="196.70" height="146.30"/></clipPath>
<rect x="344.30" y="243.50" width="196.70" height="146.30" fill="#fff"/>
<path d="M363.97 243.50 V389.80M383.64 243.50 V389.80M403.31 243.50 V389.80M422.98 243.50 V389.80M462.32 243.50 V389.80M481.99 243.50 V389.80M501.66 243.50 V389.80M521.33 243.50 V389.80" stroke="#e6e6e6" stroke-width="0.8" fill="none"/>
<path d="M344.30 375.17 H541.00M344.30 360.54 H541.00M344.30 345.91 H541.00M344.30 331.28 H541.00M344.30 302.02 H541.00M344.30 287.39 H541.00M344.30 272.76 H541.00M344.30 258.13 H541.00" stroke="#e6e6e6" stroke-width="0.8" stroke-dasharray="1.2 0.9" fill="none"/>
<path d="M344.30 243.50 V389.80M442.65 243.50 V389.80M541.00 243.50 V389.80M344.30 389.80 H541.00M344.30 316.65 H541.00M344.30 243.50 H541.00" stroke="#dcdcdc" stroke-width="0.8" fill="none"/>
<g clip-path="url(#clip4)" fill="none" stroke-linejoin="round">
<path d="M392.69 240.13L393.28 247.67L393.87 254.64L394.46 261.06L395.25 268.81L395.84 274.05L396.43 278.82L397.02 283.16L397.80 288.30L398.39 291.72L399.18 295.74L399.97 299.21L400.75 302.18L401.54 304.72L401.93 305.83L402.52 307.34L403.31 309.07L403.70 309.82L404.29 310.83L405.08 311.98L405.87 312.92L406.26 313.32L406.85 313.86L407.83 314.58L408.82 315.14L410.00 315.63L411.18 315.97L412.55 316.24L413.74 316.39L415.11 316.50L416.69 316.57L418.65 316.62L423.57 316.65L441.08 316.65L466.06 316.63L469.79 316.52L471.17 316.42L472.35 316.29L473.73 316.06L474.91 315.75L476.09 315.32L477.07 314.82L478.06 314.17L478.65 313.69L479.04 313.32L479.83 312.47L480.61 311.43L481.20 310.51L481.60 309.82L482.19 308.66L482.58 307.80L483.17 306.36L483.56 305.29L484.35 302.86L485.14 300.00L485.92 296.66L486.71 292.78L487.30 289.48L488.09 284.51L488.68 280.31L489.46 274.05L490.05 268.81L490.84 261.06L491.43 254.64L492.02 247.67L492.61 240.13" stroke="#1f1f1f" stroke-width="1.20"/>
<path d="M392.69 393.17L393.28 385.63L393.87 378.66L394.46 372.24L395.25 364.49L395.84 359.25L396.43 354.48L397.02 350.14L397.80 345.00L398.39 341.58L399.18 337.56L399.97 334.09L400.75 331.12L401.54 328.58L401.93 327.47L402.52 325.96L403.31 324.23L403.70 323.48L404.29 322.47L405.08 321.32L405.87 320.38L406.26 319.98L406.85 319.44L407.83 318.72L408.82 318.16L410.00 317.67L411.18 317.33L412.55 317.06L413.74 316.91L415.11 316.80L416.69 316.73L418.65 316.68L423.57 316.65L441.08 316.65L466.06 316.67L469.79 316.78L471.17 316.88L472.35 317.01L473.73 317.24L474.91 317.55L476.09 317.98L477.07 318.48L478.06 319.13L478.65 319.61L479.04 319.98L479.83 320.83L480.61 321.87L481.20 322.79L481.60 323.48L482.19 324.64L482.58 325.50L483.17 326.94L483.56 328.01L484.35 330.44L485.14 333.30L485.92 336.64L486.71 340.52L487.30 343.82L488.09 348.79L488.68 352.99L489.46 359.25L490.05 364.49L490.84 372.24L491.43 378.66L492.02 385.63L492.61 393.17" stroke="#1f1f1f" stroke-width="1.20"/>
<path d="M389.54 241.32L390.13 247.77L390.92 255.75L391.70 263.07L392.49 269.74L393.08 274.32L393.87 279.90L394.66 284.91L395.44 289.37L396.23 293.32L397.02 296.80L397.80 299.85L398.20 301.23L398.79 303.11L399.57 305.33L399.97 306.32L400.56 307.66L400.95 308.48L401.54 309.58L402.13 310.55L402.72 311.41L403.51 312.39L404.49 313.38L405.47 314.17L406.46 314.79L407.64 315.35L408.82 315.75L410.19 316.08L411.57 316.30L412.95 316.44L414.33 316.53L418.26 316.63L444.42 316.65L462.71 316.65L467.83 316.62L469.79 316.57L471.56 316.49L472.94 316.39L474.32 316.22L475.70 315.96L477.07 315.57L478.25 315.09L479.24 314.56L480.22 313.88L481.20 313.01L481.79 312.39L482.19 311.92L482.97 310.85L483.56 309.92L483.96 309.23L484.55 308.08L484.94 307.23L485.53 305.83L485.92 304.80L486.71 302.51L487.69 299.13L488.48 295.97L489.27 292.38L490.05 288.30L490.84 283.71L491.63 278.56L492.42 272.83L493.01 268.13L493.79 261.31L494.38 255.75L495.17 247.77L495.76 241.32" stroke="#1a76bd" stroke-width="1.15"/>
<path d="M389.54 391.98L390.13 385.53L390.92 377.55L391.70 370.23L392.49 363.56L393.08 358.98L393.87 353.40L394.66 348.39L395.44 343.93L396.23 339.98L397.02 336.50L397.80 333.45L398.20 332.07L398.79 330.19L399.57 327.97L399.97 326.98L400.56 325.64L400.95 324.82L401.54 323.72L401.93 323.06L402.52 322.17L403.31 321.14L404.29 320.10L405.28 319.27L406.26 318.62L406.85 318.30L407.44 318.03L408.62 317.60L410.00 317.26L411.37 317.03L412.75 316.88L414.13 316.78L415.90 316.71L418.06 316.67L443.63 316.65L462.52 316.65L467.63 316.68L471.37 316.79L472.75 316.90L474.12 317.05L475.50 317.30L476.88 317.67L478.06 318.12L479.04 318.62L480.02 319.27L481.01 320.10L481.99 321.14L482.78 322.17L483.37 323.06L483.76 323.72L484.35 324.82L484.74 325.64L485.33 326.98L485.73 327.97L486.51 330.19L487.10 332.07L487.50 333.45L488.28 336.50L489.07 339.98L489.86 343.93L490.64 348.39L491.43 353.40L492.22 358.98L492.81 363.56L493.60 370.23L494.38 377.55L495.17 385.53L495.76 391.98" stroke="#1a76bd" stroke-width="1.15"/>
<path d="M389.54 241.10L390.13 247.52L390.92 255.47L391.51 261.00L392.29 267.78L392.88 272.44L393.67 278.12L394.46 283.19L395.25 287.71L396.03 291.68L396.82 295.16L397.61 298.18L398.39 300.76L399.18 302.95L399.57 303.91L400.16 305.18L400.56 305.93L401.15 306.91L401.54 307.47L402.13 308.20L402.72 308.79L403.31 309.27L403.90 309.65L404.69 310.03L405.47 310.30L406.26 310.47L407.24 310.62L408.42 310.71L410.39 310.77L413.34 310.80L451.50 310.80L473.73 310.79L476.48 310.73L478.25 310.59L479.24 310.44L480.22 310.18L481.01 309.86L481.79 309.41L482.58 308.79L483.17 308.20L483.76 307.47L484.35 306.60L485.14 305.18L485.92 303.44L486.71 301.34L487.50 298.86L488.28 295.96L489.07 292.60L489.86 288.75L490.45 285.52L491.23 280.73L491.82 276.76L492.61 270.93L493.20 266.15L493.99 259.20L494.58 253.55L495.76 241.10" stroke="#f52a2a" stroke-width="1.35"/>
<path d="M389.54 392.20L390.13 385.78L390.92 377.83L391.51 372.30L392.29 365.52L392.88 360.86L393.67 355.18L394.46 350.11L395.25 345.59L396.03 341.62L396.82 338.14L397.61 335.12L398.39 332.54L399.18 330.35L399.57 329.39L400.16 328.12L400.56 327.37L401.15 326.39L401.54 325.83L402.13 325.10L402.72 324.51L403.31 324.03L403.90 323.65L404.69 323.27L405.47 323.00L406.46 322.79L407.44 322.66L408.62 322.58L410.59 322.52L413.54 322.50L452.49 322.50L473.93 322.51L476.68 322.58L478.45 322.73L479.43 322.91L480.22 323.12L481.01 323.44L481.79 323.89L482.58 324.51L483.17 325.10L483.76 325.83L484.35 326.70L485.14 328.12L485.92 329.86L486.71 331.96L487.50 334.44L488.28 337.34L489.07 340.70L489.86 344.55L490.45 347.78L491.23 352.57L491.82 356.54L492.61 362.37L493.20 367.15L493.99 374.10L494.58 379.75L495.76 392.20" stroke="#f52a2a" stroke-width="1.35"/>
</g>
<path d="M344.30 389.80 v-2.00 M344.30 243.50 v2.00M442.65 389.80 v-2.00 M442.65 243.50 v2.00M541.00 389.80 v-2.00 M541.00 243.50 v2.00M344.30 389.80 h2.00 M541.00 389.80 h-2.00M344.30 316.65 h2.00 M541.00 316.65 h-2.00M344.30 243.50 h2.00 M541.00 243.50 h-2.00" stroke="#777" stroke-width="0.7" fill="none"/>
<rect x="344.30" y="243.50" width="196.70" height="146.30" fill="none" stroke="#969696" stroke-width="1"/>
<text x="344.30" y="407.10" text-anchor="middle" font-size="13.0" fill="#1a1a1a">0.5</text>
<text x="442.65" y="407.10" text-anchor="middle" font-size="13.0" fill="#1a1a1a">1</text>
<text x="541.00" y="407.10" text-anchor="middle" font-size="13.0" fill="#1a1a1a">1.5</text>
<text x="340.30" y="394.90" text-anchor="end" font-size="13.0" fill="#1a1a1a">-0.05</text>
<text x="340.30" y="321.75" text-anchor="end" font-size="13.0" fill="#1a1a1a">0</text>
<text x="340.30" y="248.60" text-anchor="end" font-size="13.0" fill="#1a1a1a">0.05</text>
<text x="425.05" y="425.90" font-size="14.2" font-style="italic" fill="#1a1a1a">k<tspan dy="7" font-size="11.2">x</tspan><tspan dy="-7">a</tspan><tspan dy="7" font-size="11.2">x</tspan><tspan dy="-7">/</tspan><tspan dx="2.3" dy="-0.3" font-family="'Liberation Serif', 'Times New Roman', serif" font-size="13.8">π</tspan></text>
<text transform="translate(304.00 314.65) rotate(-90)" text-anchor="middle" font-size="14.2" fill="#1a1a1a"><tspan font-style="italic">E</tspan> (eV)</text>
<rect x="414.4" y="243.5" width="57.5" height="37.7" fill="#fff" stroke="#7a7a7a" stroke-width="0.9"/>
<path d="M416.3 250.40 H435.8" stroke="#1f1f1f" stroke-width="1.0"/>
<text x="437.5" y="253.65" font-size="9.3" fill="#000">GNRs</text>
<path d="M416.3 262.40 H435.8" stroke="#1a76bd" stroke-width="1.0"/>
<text x="437.5" y="265.65" font-size="9.3" fill="#000">FSiNRs</text>
<path d="M416.3 274.40 H435.8" stroke="#f52a2a" stroke-width="1.0"/>
<text x="437.5" y="277.65" font-size="9.3" fill="#000">BSiNRs</text>
<text x="2.0" y="14.6" font-family="'Liberation Serif', 'Times New Roman', serif" font-weight="bold" font-size="17.6" letter-spacing="0.7" fill="#000">(a)</text>
<text x="281.4" y="14.6" font-family="'Liberation Serif', 'Times New Roman', serif" font-weight="bold" font-size="17.6" letter-spacing="0.7" fill="#000">(b)</text>
<text x="2.2" y="232.0" font-family="'Liberation Serif', 'Times New Roman', serif" font-weight="bold" font-size="17.6" letter-spacing="0.7" fill="#000">(c)</text>
<text x="281.4" y="232.0" font-family="'Liberation Serif', 'Times New Roman', serif" font-weight="bold" font-size="17.6" letter-spacing="0.7" fill="#000">(d)</text>
<text x="156.2" y="18.3" text-anchor="middle" font-family="'Liberation Serif', 'Times New Roman', serif" font-size="18.3" fill="#000">Graphene</text>
<text x="442.7" y="18.0" text-anchor="middle" font-family="'Liberation Serif', 'Times New Roman', serif" font-size="18.3" fill="#000">Flat silicene</text>
<text x="164.0" y="235.3" text-anchor="middle" font-family="'Liberation Serif', 'Times New Roman', serif" font-size="18.3" fill="#000">Buckling silicene</text>
</svg>
</body></html>
